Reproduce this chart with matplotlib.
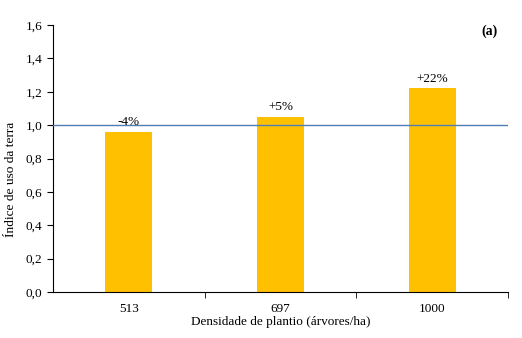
import matplotlib.pyplot as plt
import numpy as np

# dados
densidades = ['513', '697', '1000']
indice = [0.96, 1.05, 1.22]
rotulos = ['-4%', '+5%', '+22%']
y_ticks = [0.0, 0.2, 0.4, 0.6, 0.8, 1.0, 1.2, 1.4, 1.6]

plt.rcParams['font.family'] = ['Liberation Serif', 'DejaVu Serif']

fig = plt.figure(figsize=(5.22, 3.38), dpi=100)
ax = fig.add_axes([53/522, 46/338, 455/522, 267/338])

x = np.arange(len(densidades))
ax.bar(x, indice, width=0.31, color='#FFC000', zorder=2)
ax.axhline(1.0, color='#4f7fb0', lw=1, zorder=3)

for xi, v, r in zip(x, indice, rotulos):
    ax.text(xi, v + 0.02, r, ha='center', va='bottom', fontsize=9.5, zorder=4)

ax.set_xlim(-0.5, 2.5)
ax.set_ylim(0, 1.6)
ax.set_yticks(y_ticks)
ax.set_yticklabels([f'{t:.1f}'.replace('.', ',') for t in y_ticks], fontsize=9.5)
ax.set_xticks(x)
ax.set_xticklabels(densidades, fontsize=9.5)
ax.set_xticks([0.5, 1.5, 2.5], minor=True)
ax.tick_params(axis='x', which='major', length=0, pad=8)
ax.tick_params(axis='x', which='minor', length=4, direction='out')
ax.tick_params(axis='y', length=4, direction='out')

ax.spines['top'].set_visible(False)
ax.spines['right'].set_visible(False)

ax.set_xlabel('Densidade de plantio (árvores/ha)', fontsize=9.5, labelpad=1)
ax.set_ylabel('Índice de uso da terra', fontsize=9.6)
ax.yaxis.set_label_coords(-0.08, 0.42)
ax.text(0.96, 0.978, '(a)', transform=ax.transAxes, fontsize=10,
        fontweight='bold', ha='center', va='center')

fig.savefig('out.png', dpi=100)
